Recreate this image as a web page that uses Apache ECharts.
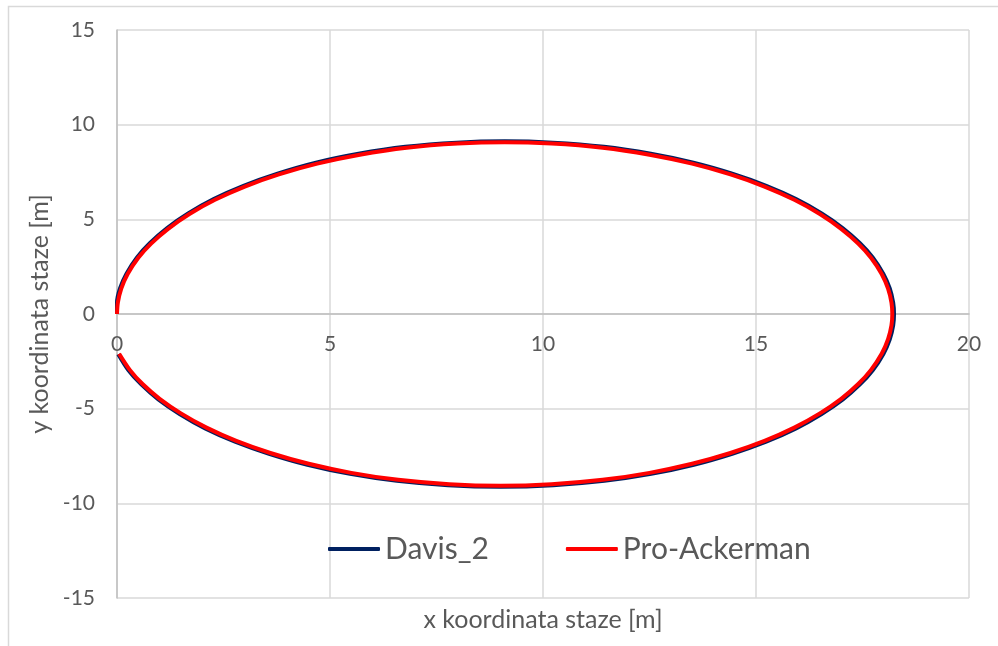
<!DOCTYPE html>
<html>
  <head>
    <meta charset="utf-8" />
    <title>Davis_2 / Pro-Ackerman</title>
    <script src="https://cdn.jsdelivr.net/npm/echarts@6/dist/echarts.min.js"></script>
    <style>
      html, body { margin: 0; padding: 0; background: #fff; }
    </style>
  </head>
  <body>
    <div id="chart" style="width: 998px; height: 646px"></div>
    <script>
      // ---- data ----
      var seriesNames = ["Davis_2", "Pro-Ackerman"];
      var xTicks = [0, 5, 10, 15, 20];
      var yTicks = [-15, -10, -5, 0, 5, 10, 15];

      // Davis_2 (dark blue), a hair outside the red track
      var davis2 = [
        [0, 0], [0.0, 0.6], [0.07, 1.35], [0.22, 2.12], [0.47, 2.99], [0.77, 3.74],
        [1.17, 4.53], [1.67, 5.31], [2.27, 6.07], [2.97, 6.77], [3.77, 7.41],
        [4.67, 7.99], [5.67, 8.46], [6.77, 8.83], [7.97, 9.05], [9.1, 9.12],
        [10.23, 9.05], [11.43, 8.83], [12.53, 8.46], [13.53, 7.99], [14.44, 7.41],
        [15.24, 6.77], [15.94, 6.07], [16.54, 5.31], [17.04, 4.53], [17.44, 3.74],
        [17.74, 2.99], [17.99, 2.12], [18.14, 1.35], [18.22, 0.6], [18.24, 0],
        [18.22, -0.6], [18.14, -1.34], [17.99, -2.11], [17.74, -2.97], [17.44, -3.72],
        [17.04, -4.51], [16.54, -5.28], [15.94, -6.04], [15.24, -6.74], [14.44, -7.38],
        [13.54, -7.96], [12.54, -8.44], [11.44, -8.81], [10.24, -9.04], [9.0, -9.12],
        [7.77, -9.04], [6.57, -8.81], [5.47, -8.44], [4.47, -7.96], [3.57, -7.38],
        [2.77, -6.74], [2.07, -6.04], [1.47, -5.28], [0.97, -4.51], [0.57, -3.72],
        [0.27, -2.97], [0.03, -2.12]
      ];

      // Pro-Ackerman (red)
      var proAckerman = [
        [0, 0], [0.02, 0.6], [0.1, 1.34], [0.25, 2.11], [0.5, 2.97], [0.8, 3.72],
        [1.2, 4.5], [1.7, 5.28], [2.3, 6.03], [3.0, 6.73], [3.8, 7.37],
        [4.7, 7.94], [5.7, 8.41], [6.8, 8.78], [8.0, 9.0], [9.1, 9.07],
        [10.2, 9.0], [11.4, 8.78], [12.5, 8.41], [13.5, 7.94], [14.4, 7.37],
        [15.2, 6.73], [15.9, 6.03], [16.5, 5.28], [17.0, 4.5], [17.4, 3.72],
        [17.7, 2.97], [17.95, 2.11], [18.1, 1.34], [18.18, 0.6], [18.2, 0],
        [18.18, -0.6], [18.1, -1.33], [17.95, -2.1], [17.7, -2.95], [17.4, -3.7],
        [17.0, -4.48], [16.5, -5.25], [15.9, -6.0], [15.2, -6.7], [14.4, -7.34],
        [13.5, -7.91], [12.5, -8.39], [11.4, -8.76], [10.2, -8.99], [9.0, -9.07],
        [7.8, -8.99], [6.6, -8.76], [5.5, -8.39], [4.5, -7.91], [3.6, -7.34],
        [2.8, -6.7], [2.1, -6.0], [1.5, -5.25], [1.0, -4.48], [0.6, -3.7],
        [0.3, -2.95], [0.05, -2.1]
      ];

      var textColor = "#595959";
      var fontFamily = "Lato";

      var chart = echarts.init(document.getElementById("chart"));

      var option = {
        animation: false,
        backgroundColor: "#fff",
        textStyle: { fontFamily: fontFamily, color: textColor },
        grid: { left: 117, right: 29, top: 30, bottom: 48 },
        legend: {
          data: seriesNames,
          left: 328,
          top: 534,
          padding: 0,
          itemWidth: 52,
          itemHeight: 4,
          itemGap: 77,
          icon: "roundRect",
          textStyle: { fontSize: 30, color: textColor, fontFamily: fontFamily }
        },
        xAxis: {
          type: "value",
          min: xTicks[0],
          max: xTicks[xTicks.length - 1],
          interval: 5,
          // sits on y = 0 like the original (offset from the bottom edge of the grid)
          offset: -284,
          axisLine: { show: true, onZero: false, lineStyle: { color: "#bfbfbf", width: 1.5 } },
          axisTick: { show: false },
          axisLabel: { fontSize: 21, color: textColor, margin: 20, fontFamily: fontFamily },
          splitLine: { show: true, lineStyle: { color: "#d9d9d9", width: 1.5 } }
        },
        yAxis: {
          type: "value",
          min: yTicks[0],
          max: yTicks[yTicks.length - 1],
          interval: 5,
          axisLine: { show: true, onZero: false, lineStyle: { color: "#bfbfbf", width: 1.5 } },
          axisTick: { show: false },
          axisLabel: { fontSize: 21, color: textColor, margin: 22, fontFamily: fontFamily },
          splitLine: { show: true, lineStyle: { color: "#d9d9d9", width: 1.5 } }
        },
        graphic: [
          {
            type: "rect",
            z: -1,
            shape: { x: 8.5, y: 6.5, width: 1000, height: 700 },
            style: { fill: "none", stroke: "#d9d9d9", lineWidth: 1.5 }
          },
          {
            type: "text",
            x: 543,
            y: 620,
            style: {
              text: "x koordinata staze [m]",
              fontSize: 25,
              fill: textColor,
              fontFamily: fontFamily,
              align: "center",
              verticalAlign: "middle"
            }
          },
          {
            type: "text",
            x: 40,
            y: 314,
            rotation: Math.PI / 2,
            style: {
              text: "y koordinata staze [m]",
              fontSize: 25,
              fill: textColor,
              fontFamily: fontFamily,
              align: "center",
              verticalAlign: "middle"
            }
          }
        ],
        series: [
          {
            name: seriesNames[0],
            type: "line",
            data: davis2,
            showSymbol: false,
            smooth: 0.3,
            color: "#002060",
            lineStyle: { width: 4, color: "#002060" }
          },
          {
            name: seriesNames[1],
            type: "line",
            data: proAckerman,
            showSymbol: false,
            smooth: 0.3,
            color: "#ff0000",
            lineStyle: { width: 4, color: "#ff0000" }
          }
        ]
      };

      chart.setOption(option);
    </script>
  </body>
</html>
